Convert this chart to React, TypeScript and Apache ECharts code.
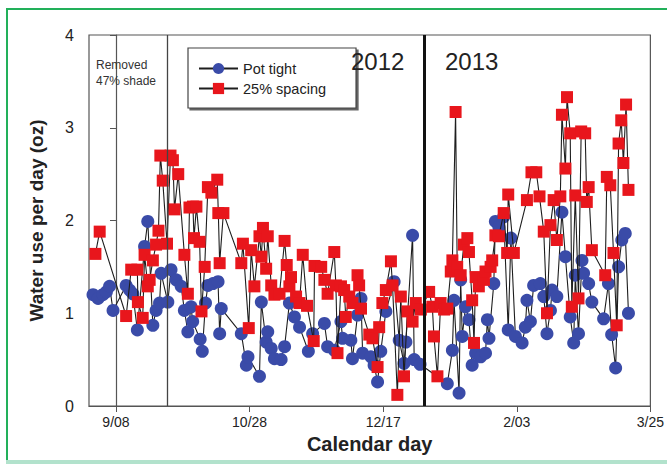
import React, { useEffect, useRef } from "react";
import * as echarts from "echarts";

// Days counted from 9/08 (2012)
const tickDays = [0, 50, 100, 150, 200];
const tickLabels = ["9/08", "10/28", "12/17", "2/03", "3/25"];
const shadeRemovedDay = 19;
const yearBoundaryDay = 115.5;

const potTight: number[][] = [
  [-8.6, 1.2], [-6.7, 1.16], [-4.9, 1.2], [-3.6, 1.23], [-2.4, 1.29], [-1.1, 1.03], [3.8, 1.3], [5.1, 1.25],
  [6.3, 1.21], [8, 0.82], [10.7, 1.72], [11.9, 1.99], [13.8, 0.87], [15, 1.03], [16.3, 1.11], [16.9, 1.43],
  [19.4, 1.12], [20.6, 1.47], [22.5, 1.36], [24.4, 1.29], [25.6, 1.03], [26.9, 0.8], [28.1, 1.07], [28.7, 0.91],
  [31.5, 0.72], [32.3, 0.59], [33.5, 1.11], [34.4, 1.3], [36.3, 1.32], [38.2, 1.34], [38.8, 0.78], [39.4, 1.05],
  [46.9, 0.78], [48.8, 0.44], [49.4, 0.53], [53.7, 0.32], [54.4, 1.12], [56.2, 0.69], [56.8, 0.8], [58.1, 0.62],
  [59.3, 0.51], [61.8, 0.5], [63.1, 0.64], [64.9, 1.11], [66.8, 0.96], [68.7, 0.85], [72, 0.59], [73.6, 0.78],
  [78, 0.89], [79.2, 0.64], [81.7, 0.6], [84.2, 0.91], [84.8, 0.73], [87.9, 0.71], [88.5, 0.51], [90.4, 0.98],
  [91.7, 1.16], [92.3, 0.57], [95.4, 0.53], [96.6, 0.44], [97.9, 0.26], [99.1, 0.59], [101, 1.02], [104.1, 1.34],
  [106, 0.71], [107.8, 0.46], [108.5, 0.69], [111, 1.84], [111.6, 0.5], [113.8, 0.45], [124, 0.24], [125.9, 0.6],
  [126.5, 1.14], [128.4, 0.14], [129, 1.36], [129.6, 0.75], [130.8, 1.07], [132.1, 0.93], [133.3, 0.44], [134.6, 0.57],
  [136.5, 0.53], [138.3, 0.57], [139, 0.93], [139.6, 0.73], [141.4, 1.32], [142, 1.99], [143.3, 1.93], [145.1, 2.04],
  [146.8, 0.82], [147.8, 1.81], [149.5, 0.75], [152, 0.68], [153.2, 0.85], [153.8, 1.14], [155.1, 0.91], [156.3, 1.3],
  [158.8, 1.32], [160.1, 1.18], [161.3, 0.78], [162.6, 1.03], [163.2, 1.25], [165, 1.18], [166.9, 2.09], [168.2, 1.61],
  [170, 0.96], [171.3, 0.68], [171.9, 1.41], [173.1, 0.78], [174.4, 1.57], [175, 1.43], [176.9, 1.32], [178.1, 1.12],
  [182.5, 0.94], [184.3, 1.32], [185.5, 0.77], [187, 0.41], [188.1, 1.5], [189.3, 1.79], [190.6, 1.86], [191.8, 1.0],
];

const spacing25: number[][] = [
  [-7.7, 1.64], [-6.1, 1.88], [3.8, 0.97], [5.7, 1.47], [8, 1.47], [8.2, 1.12], [10, 0.95], [10.7, 1.63],
  [11.9, 1.29], [12.6, 1.36], [13.8, 1.57], [15, 1.74], [15.9, 1.89], [16.6, 2.7], [17.5, 2.43], [19.1, 1.75],
  [20.4, 2.7], [21.3, 2.65], [21.9, 2.12], [23.3, 2.5], [25.6, 1.63], [26.9, 1.21], [27.5, 2.14], [28.8, 2.15],
  [29.2, 1.81], [30.1, 2.15], [31.3, 1.77], [32, 1.02], [33.2, 1.5], [34.4, 2.36], [35.7, 2.3], [37.9, 2.44],
  [38.3, 2.08], [38.8, 1.54], [40.2, 2.08], [46.9, 1.54], [47.5, 1.75], [49.7, 0.84], [50.6, 1.68], [51.8, 1.29],
  [53.7, 1.83], [54.4, 1.61], [55, 1.92], [56.2, 1.48], [56.8, 1.83], [58.1, 1.3], [59.3, 1.2], [61.2, 1.21],
  [63.1, 1.78], [63.9, 1.52], [64.9, 1.29], [65.5, 1.39], [67.4, 1.18], [68.7, 1.11], [69.9, 1.63], [71.5, 1.08],
  [74, 0.7], [74.3, 1.51], [76.8, 1.5], [78, 1.36], [79.2, 1.21], [81.7, 1.66], [82.3, 1.3], [82.9, 0.57],
  [84.2, 1.29], [85.4, 1.25], [86, 0.96], [87.3, 1.18], [88.5, 1.11], [90.4, 1.41], [91, 1.3], [91.7, 1.05],
  [94.8, 0.77], [96, 0.73], [97.9, 0.42], [98.5, 0.85], [99.7, 1.11], [101, 1.25], [102.9, 1.56], [103.5, 1.3],
  [105.3, 0.12], [106.6, 1.18], [107.8, 0.32], [109.1, 1.02], [111, 0.91], [112.2, 1.11], [114.1, 1.04], [117.2, 1.23],
  [118.4, 1.07], [119, 0.75], [120.3, 0.32], [121.5, 1.11], [122.8, 1.04], [124, 1.05], [125.3, 1.45], [125.9, 1.57],
  [127.1, 3.17], [127.7, 1.5], [129, 1.41], [130.2, 1.74], [131.5, 1.81], [132.1, 1.66], [133.3, 1.14], [134, 0.68],
  [134.6, 1.39], [135.8, 1.29], [137.7, 1.36], [138.3, 1.45], [140.2, 1.5], [140.8, 1.57], [142, 1.84], [143.3, 1.83],
  [145.1, 2.08], [146.4, 1.65], [146.8, 2.28], [148.9, 1.65], [153.8, 2.22], [155.5, 2.52], [157.3, 2.52], [158.5, 2.26],
  [160.1, 1.88], [161.3, 1.0], [162.6, 1.95], [163.8, 2.22], [165, 1.79], [166.3, 2.26], [166.9, 3.14], [168.2, 2.56],
  [168.8, 3.33], [170, 2.94], [170.6, 1.07], [171.9, 2.27], [173.1, 1.16], [174.1, 2.96], [175.6, 2.94], [176.2, 2.2],
  [176.9, 2.36], [178.1, 1.68], [183.1, 1.41], [183.7, 2.47], [185, 2.38], [186.2, 1.65], [187.4, 0.87], [188.1, 2.83],
  [189.1, 3.08], [189.9, 2.62], [190.9, 3.25], [191.8, 2.33],
];

const FONT = "'Liberation Sans', Arial, sans-serif";

export default function App() {
  const ref = useRef<HTMLDivElement>(null);
  useEffect(() => {
    if (!ref.current) return;
    const chart = echarts.init(ref.current, null, { renderer: "svg" });
    const lineStyle = { color: "#1e1e1e", width: 1.1 };
    chart.setOption({
      animation: false,
      backgroundColor: "#ffffff",
      textStyle: { fontFamily: FONT },
      grid: {
        left: 89,
        right: 15,
        top: 35,
        bottom: 58,
        show: true,
        borderColor: "#555",
        borderWidth: 1.2,
        backgroundColor: "transparent",
      },
      legend: {
        orient: "vertical",
        left: 188,
        top: 48,
        padding: [13, 30, 12, 10],
        itemWidth: 39,
        itemHeight: 14,
        itemGap: 5,
        backgroundColor: "#fff",
        borderColor: "#444",
        borderWidth: 1.2,
        shadowColor: "rgba(60,60,60,0.8)",
        shadowOffsetX: 2,
        shadowOffsetY: 2,
        shadowBlur: 0,
        textStyle: { fontSize: 14.5, color: "#222", fontFamily: FONT },
        data: ["Pot tight", "25% spacing"],
      },
      xAxis: {
        type: "value",
        min: -10.1,
        max: 200,
        name: "Calendar day",
        nameLocation: "middle",
        nameGap: 28,
        nameTextStyle: { fontSize: 20, fontWeight: "bold", color: "#222", fontFamily: FONT },
        axisLine: { show: true, lineStyle: { color: "#555", width: 1.2 } },
        axisTick: { show: true, inside: false, length: 6, customValues: tickDays, lineStyle: { color: "#555" } },
        axisLabel: {
          customValues: tickDays,
          margin: 9,
          fontSize: 14,
          color: "#222",
          fontFamily: FONT,
          formatter: (v: number) => {
            const i = tickDays.indexOf(v);
            return i >= 0 ? tickLabels[i] : "";
          },
        },
        splitLine: { show: false },
      },
      yAxis: {
        type: "value",
        min: 0,
        max: 4,
        interval: 1,
        name: "Water use per day (oz)",
        nameLocation: "middle",
        nameGap: 43,
        nameTextStyle: { fontSize: 19, fontWeight: "bold", color: "#222", fontFamily: FONT },
        axisLine: { show: true, lineStyle: { color: "#555", width: 1.2 } },
        axisTick: { show: true, inside: false, length: 6, lineStyle: { color: "#555" } },
        axisLabel: { margin: 15, fontSize: 16, color: "#222", fontFamily: FONT },
        splitLine: { show: false },
      },
      series: [
        {
          name: "Pot tight",
          type: "line",
          data: potTight,
          symbol: "circle",
          symbolSize: 13,
          showAllSymbol: true,
          itemStyle: { color: "#3a4ba8" },
          lineStyle,
          z: 2,
          markLine: {
            silent: true,
            symbol: "none",
            label: { show: false },
            data: [
              { xAxis: shadeRemovedDay, lineStyle: { color: "#444", width: 1.3, type: "solid" } },
              { xAxis: yearBoundaryDay, lineStyle: { color: "#111", width: 3, type: "solid" } },
            ],
          },
        },
        {
          name: "25% spacing",
          type: "line",
          data: spacing25,
          symbol: "rect",
          symbolSize: 12,
          showAllSymbol: true,
          itemStyle: { color: "#e8161c" },
          lineStyle,
          z: 3,
        },
      ],
      graphic: [
        { type: "rect", shape: { x: 7, y: 9, width: 700, height: 452 }, style: { fill: "none", stroke: "#22b05a", lineWidth: 2 }, z: 100 },
        { type: "rect", shape: { x: 6, y: 460, width: 670, height: 5 }, style: { fill: "#b2e2cc" }, z: 101 },
        {
          type: "text",
          left: 96,
          top: 57,
          style: { text: "Removed\n47% shade", fontSize: 12, lineHeight: 16, fill: "#333", fontFamily: FONT },
          z: 50,
        },
        {
          type: "text",
          x: 351,
          y: 61,
          style: { text: "2012", fontSize: 24, fill: "#222", fontFamily: FONT, verticalAlign: "middle" },
          z: 50,
        },
        {
          type: "text",
          x: 445,
          y: 61,
          style: { text: "2013", fontSize: 24, fill: "#222", fontFamily: FONT, verticalAlign: "middle" },
          z: 50,
        },
      ],
    });
    return () => chart.dispose();
  }, []);
  return <div ref={ref} style={{ position: "fixed", left: 0, top: 0, width: 667, height: 464 }} />;
}
